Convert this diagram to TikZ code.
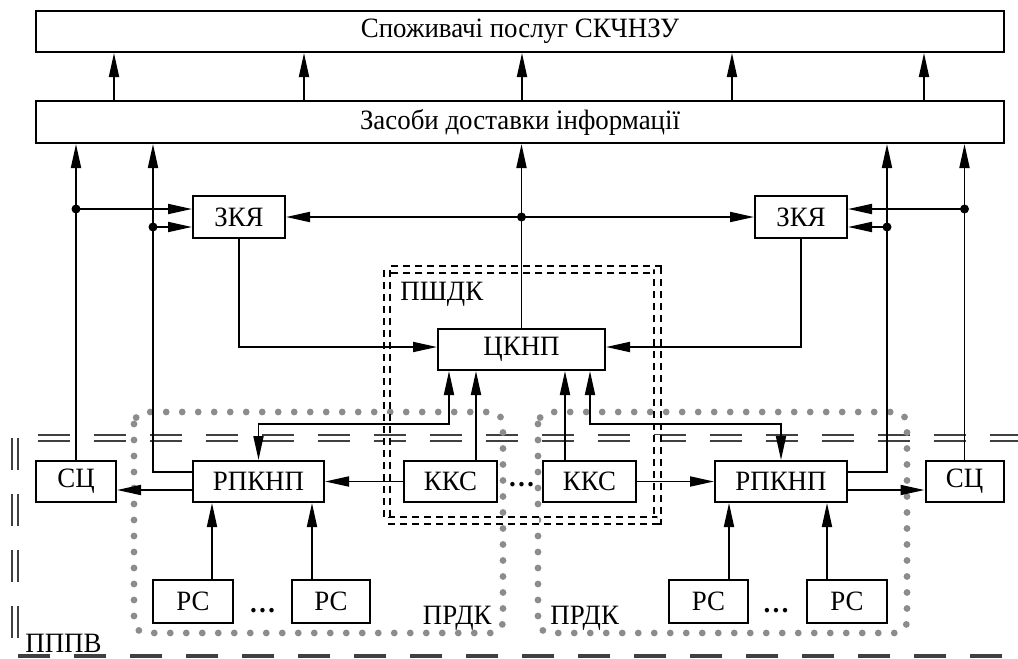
\documentclass[tikz,border=0pt]{standalone}
\usepackage{fontspec}
\setmainfont[FakeStretch=0.96]{Liberation Serif}
\usetikzlibrary{arrows.meta,calc,positioning}

\tikzset{
  blk/.style={draw, line width=1pt, inner sep=0pt, minimum height=20.5pt, font=\fontsize{14}{16}\selectfont},
  lbl/.style={inner sep=0pt, font=\fontsize{14}{16}\selectfont},
  arr/.style={line width=0.9pt, -{Triangle[length=12pt,width=5pt]}},
  arrb/.style={line width=0.9pt, {Triangle[length=12pt,width=5pt]}-{Triangle[length=12pt,width=5pt]}},
  jdot/.style={circle, fill=black, inner sep=0pt, minimum size=4.5pt},
  zone/.style={draw=black!45, line width=3.4pt, line cap=round, dash pattern=on 0pt off 8pt, rounded corners=6pt},
  tier/.style={draw=black!75, line width=0.8pt, double, double distance=2pt, dash pattern=on 16pt off 12pt},
  shdk/.style={draw=black, line width=1pt, double, double distance=2.3pt, dash pattern=on 3.5pt off 2.5pt},
}

\begin{document}
\begin{tikzpicture}[x=0.5pt,y=-0.5pt]
        \useasboundingbox (0,0) rectangle (1018,659);
        %Zones
        \draw[tier] (38,438) -- (1018,438);
        \draw[tier] (15,438) -- (15,645);
        \draw[draw=black!75, line width=2pt, dash pattern=on 16pt off 12pt] (18,656) -- (1004,656);
        \draw[zone] (134,412) rectangle (503,633);
        \draw[zone] (538,412) rectangle (907,633);
        \draw[shdk] (387,269.5) rectangle (657.5,520.5);
        %Boxes
        \node[blk, minimum width=484pt] (cons) at (520,31.5) {Споживачі послуг СКЧНЗУ};
        \node[blk, minimum width=484pt, minimum height=21pt] (deliv) at (520,122) {Засоби доставки інформації};
        \node[blk, minimum width=46pt, minimum height=21pt] (zkyaL) at (239,217) {ЗКЯ};
        \node[blk, minimum width=46pt, minimum height=21pt] (zkyaR) at (801,217) {ЗКЯ};
        \node[blk, minimum width=83.5pt] (ckpn) at (521.5,349.5) {ЦКНП};
        \node[blk, minimum width=40pt] (scL) at (76,481.5) {СЦ};
        \node[blk, minimum width=65.5pt] (rpL) at (258.5,481.5) {РПКНП};
        \node[blk, minimum width=46.5pt] (kksL) at (450.5,481.5) {ККС};
        \node[blk, minimum width=46.5pt] (kksR) at (589.5,481.5) {ККС};
        \node[blk, minimum width=66pt] (rpR) at (781,481.5) {РПКНП};
        \node[blk, minimum width=39pt] (scR) at (964.5,481.5) {СЦ};
        \node[blk, minimum width=40pt, minimum height=21.5pt] (rs1) at (193,601.5) {РС};
        \node[blk, minimum width=39pt, minimum height=21.5pt] (rs2) at (331,601.5) {РС};
        \node[blk, minimum width=39.5pt, minimum height=21.5pt] (rs3) at (708.5,601.5) {РС};
        \node[blk, minimum width=40pt, minimum height=21.5pt] (rs4) at (847,601.5) {РС};
        %Labels
        \node[lbl, anchor=base west] (lshdk) at (400,300) {ПШДК};
        \node[lbl, anchor=base east] (lprdkL) at (492,624) {ПРДК};
        \node[lbl, anchor=base west] (lprdkR) at (550,624) {ПРДК};
        \node[lbl, anchor=base west] (lpppv) at (25,652) {ПППВ};
        \node[lbl] (dkks) at (521.5,485) {\textbf{\dots}};
        \node[lbl] (drsL) at (262.5,611) {\textbf{\dots}};
        \node[lbl] (drsR) at (776,611) {\textbf{\dots}};
        %Buses
        \coordinate (busL) at (153,0);
        \coordinate (busR) at (887,0);
        \coordinate (fb) at (0,424);
        \coordinate (c1) at ([xshift=-36.25pt]ckpn.south);
        \coordinate (c2) at ([xshift=-22.75pt]ckpn.south);
        \coordinate (c3) at ([xshift=21.75pt]ckpn.south);
        \coordinate (c4) at ([xshift=34.25pt]ckpn.south);
        %Delivery to consumers
        \foreach \x in {114,304,522,732,924}
          \draw[arr] (\x,0 |- deliv.north) -- (\x,0 |- cons.south);
        %Left side
        \draw[arr] (scL.north) -- (scL.north |- deliv.south);
        \draw[arr] ([yshift=4.75pt]rpL.west) -| (busL |- deliv.south);
        \draw[arr] ([yshift=4pt]zkyaL.west -| scL.north) node[jdot]{} -- ([yshift=4pt]zkyaL.west);
        \draw[arr] ([yshift=-5pt]zkyaL.west -| busL) node[jdot]{} -- ([yshift=-5pt]zkyaL.west);
        %Right side
        \draw[arr] (scR.north) -- (scR.north |- deliv.south);
        \draw[arr] ([yshift=4.75pt]rpR.east) -| (busR |- deliv.south);
        \draw[arr] ([yshift=4pt]zkyaR.east -| scR.north) node[jdot]{} -- ([yshift=4pt]zkyaR.east);
        \draw[arr] ([yshift=-5pt]zkyaR.east -| busR) node[jdot]{} -- ([yshift=-5pt]zkyaR.east);
        %Middle
        \draw[arrb] (zkyaL) -- (zkyaR);
        \draw[arr] (ckpn.north) -- (ckpn.north |- deliv.south);
        \node[jdot] (jmid) at (ckpn.north |- zkyaL) {};
        \draw[arr] (zkyaL.south) |- ([yshift=1.25pt]ckpn.west);
        \draw[arr] (zkyaR.south) |- ([yshift=1.25pt]ckpn.east);
        \draw[arrb] (c1) -- (c1 |- fb) -| (rpL.north);
        \draw[arrb] (c4) -- (c4 |- fb) -| (rpR.north);
        \draw[arr] (c2 |- kksL.north) -- (c2);
        \draw[arr] (c3 |- kksR.north) -- (c3);
        \draw[arr] (kksL) -- (rpL);
        \draw[arr] (kksR) -- (rpR);
        \draw[arr] ([yshift=-4.25pt]rpL.west) -- ([yshift=-4.25pt]rpL.west -| scL.east);
        \draw[arr] ([yshift=-4.25pt]rpR.east) -- ([yshift=-4.25pt]rpR.east -| scR.west);
        %Stations
        \draw[arr] ([xshift=9.5pt]rs1.north) -- ([xshift=9.5pt]rs1.north |- rpL.south);
        \draw[arr] ([xshift=-9.5pt]rs2.north) -- ([xshift=-9.5pt]rs2.north |- rpL.south);
        \draw[arr] ([xshift=10.25pt]rs3.north) -- ([xshift=10.25pt]rs3.north |- rpR.south);
        \draw[arr] ([xshift=-10pt]rs4.north) -- ([xshift=-10pt]rs4.north |- rpR.south);
\end{tikzpicture}
\end{document}
